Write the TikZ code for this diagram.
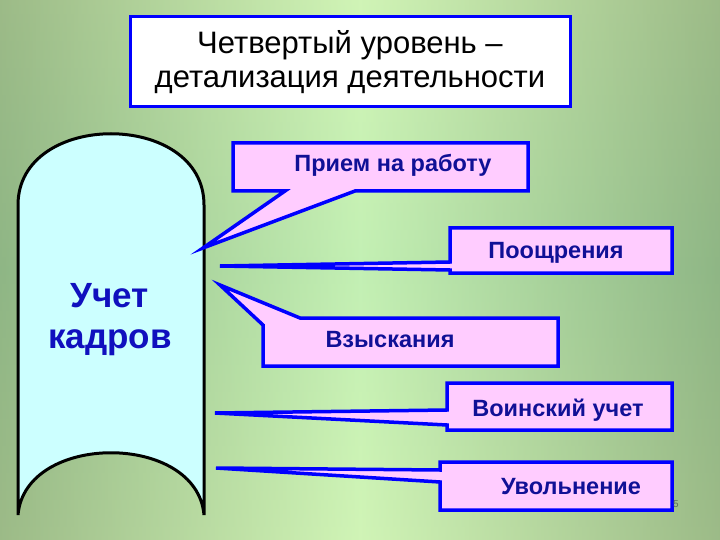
\documentclass[tikz,border=0pt]{standalone}
\usepackage{fontspec}
\setmainfont{Liberation Sans}
\begin{document}
\begin{tikzpicture}[x=1pt,y=-1pt,
  callout/.style={fill={rgb,255:red,255;green,204;blue,255},draw={rgb,255:red,0;green,0;blue,255},line width=3.5pt,line join=miter},
  ctext/.style={text={rgb,255:red,16;green,16;blue,150},font=\bfseries\fontsize{23.5}{26}\selectfont}]
\useasboundingbox (0,0) rectangle (720,540);
\shade[left color={rgb,255:red,100;green,135;blue,95},right color={rgb,255:red,100;green,135;blue,95},middle color={rgb,255:red,195;green,240;blue,180}] (0,0) rectangle (720,540);
\shade[top color={rgb,255:red,225;green,250;blue,185},bottom color={rgb,255:red,225;green,250;blue,185},opacity=0.45,middle color={rgb,255:red,195;green,240;blue,180}] (0,0) rectangle (720,540);
% scroll
\draw[fill={rgb,255:red,204;green,255;blue,255},line width=3pt]
  (18,515) -- (18,205) .. controls (18,110) and (204,110) .. (204,205) -- (204,515)
  .. controls (197,432) and (25,432) .. (18,515) -- cycle;
\node[text={rgb,255:red,16;green,16;blue,190},font=\bfseries\fontsize{35}{41}\selectfont,align=center] (uk) at (110,320) {Учет\\кадров};
% title
\node[draw={rgb,255:red,0;green,0;blue,255},fill=white,line width=3pt,minimum width=440pt,minimum height=90pt,align=center,font=\fontsize{31}{34}\selectfont] (title) at (350,62) {Четвертый уровень –\\детализация деятельности};
% callouts
\draw[callout] (233,143) -- (528,143) -- (528,191) -- (355,191) -- (203,248) -- (285,191) -- (233,191) -- cycle;
\draw[callout] (450,228) -- (672,228) -- (672,273) -- (450,273) -- (450,270) -- (220,266) -- (450,262) -- cycle;
\draw[callout] (220,285) -- (300,318) -- (558,318) -- (558,366) -- (263,366) -- (263,325) -- cycle;
\draw[callout] (447,383) -- (672,383) -- (672,430) -- (447,430) -- (447,425) -- (215,413) -- (447,410) -- cycle;
\draw[callout] (440,462) -- (672,462) -- (672,510) -- (440,510) -- (440,482) -- (216,468) -- (440,470) -- cycle;
\node[ctext] (a) at (393,165) {Прием на работу};
\node[ctext] (b) at (556,253) {Поощрения};
\node[ctext] (c) at (390,340) {Взыскания};
\node[ctext] (d) at (558,410) {Воинский учет};
\node[ctext] (e) at (571,487) {Увольнение};
\node[text={rgb,255:red,90;green,110;blue,90},font=\fontsize{10}{12}\selectfont] (pg) at (676,504) {5};
\end{tikzpicture}
\end{document}
